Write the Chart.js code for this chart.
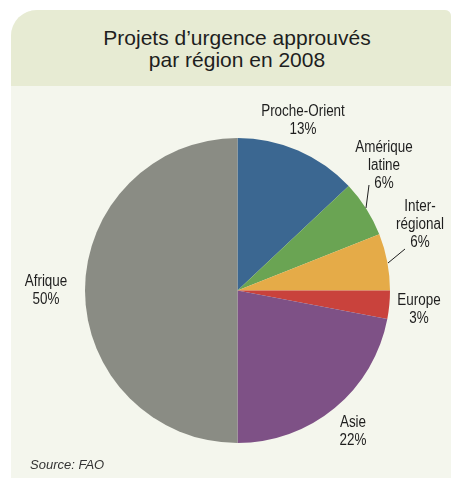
<!DOCTYPE html>
<html>
<head>
<meta charset="utf-8">
<script src="https://cdn.jsdelivr.net/npm/chart.js@4"></script>
<style>
  html, body { margin:0; padding:0; background:#ffffff; }
  #wrap { position:relative; width:454px; height:479px; overflow:hidden; }
  #panel { position:absolute; left:11px; top:10px; width:440px; height:468px; background:#f4f6ed; border-radius:26px 6px 0 0; overflow:hidden; }
  #head { position:absolute; left:0; top:0; width:100%; height:76px; background:#e7ebd3; }
  #title { position:absolute; left:0; top:27px; width:474px; text-align:center; font-family:"Liberation Sans", Arial, sans-serif; font-size:21px; line-height:22px; color:#1e1e1e; }
  #source { position:absolute; left:30px; top:457px; font-family:"Liberation Sans", Arial, sans-serif; font-style:italic; font-size:13px; color:#333; }
  canvas { position:absolute; left:0; top:0; }
</style>
</head>
<body>
<div id="wrap">
  <div id="panel"><div id="head"></div></div>
  <div id="title">Projets d’urgence approuvés<br>par région en 2008</div>
  <canvas id="c" width="454" height="479"></canvas>
  <div id="source">Source: FAO</div>
</div>
<script>
const regions = ["Proche-Orient", "Amérique latine", "Inter-régional", "Europe", "Asie", "Afrique"];
const shares = [13, 6, 6, 3, 22, 50];
const labelLines = [["Proche-Orient", "13%"], ["Amérique", "latine", "6%"], ["Inter-", "régional", "6%"], ["Europe", "3%"], ["Asie", "22%"], ["Afrique", "50%"]];
const colors = ["#3b6791", "#6aa453", "#e5ab48", "#c9423c", "#7e5186", "#8a8c84"];

// label placement (style, not data)
const labelPos = [
  {x:303, y:112}, {x:384, y:148}, {x:420, y:207}, {x:419, y:301}, {x:353, y:423}, {x:46, y:282}
];
const leaders = [null, [[369,185],[366,208]], [[405,249],[388,263]], null, null, null];

const labelPlugin = {
  id: 'labels',
  afterDraw(chart) {
    const ctx = chart.ctx;
    ctx.save();
    ctx.fillStyle = '#1e1e1e';
    ctx.font = '16px "Liberation Sans", Arial, sans-serif';
    ctx.textAlign = 'center';
    ctx.textBaseline = 'middle';
    const sx = 0.84;
    labelLines.forEach((lines, i) => {
      const p = labelPos[i];
      lines.forEach((t, k) => {
        ctx.save();
        ctx.translate(p.x, p.y + k * 18);
        ctx.scale(sx, 1);
        ctx.fillText(t, 0, 0);
        ctx.restore();
      });
      const l = leaders[i];
      if (l) {
        ctx.strokeStyle = '#1e1e1e';
        ctx.lineWidth = 1;
        ctx.beginPath();
        ctx.moveTo(l[0][0], l[0][1]);
        ctx.lineTo(l[1][0], l[1][1]);
        ctx.stroke();
      }
    });
    ctx.restore();
  }
};

new Chart(document.getElementById('c'), {
  type: 'pie',
  data: {
    labels: regions,
    datasets: [{ data: shares, backgroundColor: colors, borderWidth: 0 }]
  },
  options: {
    responsive: false,
    animation: false,
    layout: { padding: { left: 85, right: 64, top: 138, bottom: 36 } },
    plugins: { legend: { display: false }, tooltip: { enabled: false } }
  },
  plugins: [labelPlugin]
});
</script>
</body>
</html>
